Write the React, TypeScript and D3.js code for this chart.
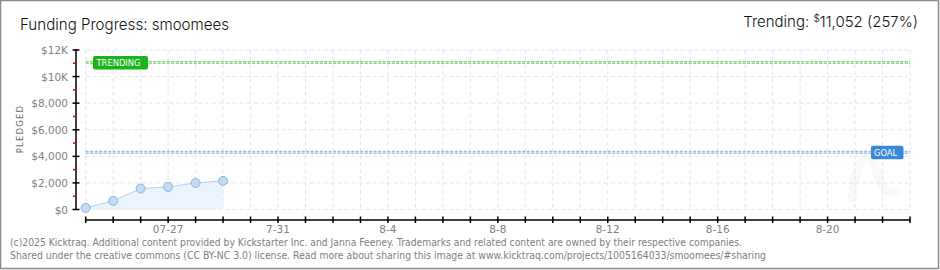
import React from "react";
import * as d3 from "d3";

const W = 940;
const H = 270;

const dates = ["2025-07-24", "2025-07-25", "2025-07-26", "2025-07-27", "2025-07-28", "2025-07-29"];
const pledged = [120, 650, 1575, 1700, 2000, 2150];
const goal = 4300;
const trending = 11052;
const domainStart = "2025-07-24";
const domainEnd = "2025-08-23";
const yTicks = [0, 2000, 4000, 6000, 8000, 10000, 12000];
const yTickLabels = ["$0", "$2,000", "$4,000", "$6,000", "$8,000", "$10K", "$12K"];
const yMinorTicks = [1000, 3000, 5000, 7000, 9000, 11000];
const xLabelDates = ["2025-07-27", "2025-07-31", "2025-08-04", "2025-08-08", "2025-08-12", "2025-08-16", "2025-08-20"];
const xLabels = ["07-27", "7-31", "8-4", "8-8", "8-12", "8-16", "8-20"];
const title = "Funding Progress: smoomees";
const footer1 = "(c)2025 Kicktraq. Additional content provided by Kickstarter Inc. and Janna Feeney. Trademarks and related content are owned by their respective companies.";
const footer2 = "Shared under the creative commons (CC BY-NC 3.0) license. Read more about sharing this image at www.kicktraq.com/projects/1005164033/smoomees/#sharing";

const parse = d3.utcParse("%Y-%m-%d");

export default function App() {
  const x = d3.scaleUtc().domain([parse(domainStart)!, parse(domainEnd)!]).range([85.7, 910]);
  const y = d3.scaleLinear().domain([0, 12000]).range([209.5, 50]);
  const days = d3.utcDay.range(parse(domainStart)!, d3.utcDay.offset(parse(domainEnd)!, 1));
  const pts = dates.map((d, i) => ({ d: parse(d)!, v: pledged[i] }));
  const area = d3.area<{ d: Date; v: number }>().x((p) => x(p.d)).y0(y(0)).y1((p) => y(p.v));
  const line = d3.line<{ d: Date; v: number }>().x((p) => x(p.d)).y((p) => y(p.v));
  const font = "'DejaVu Sans', Verdana, sans-serif";
  const yGoal = y(goal);
  const yTrend = y(trending);
  return (
    <div style={{ position: "absolute", left: 0, top: 0 }}>
      <svg width={W} height={H} style={{ display: "block", background: "#fff" }}>
        <rect x={0.5} y={0.5} width={W - 2} height={H - 2} fill="#fff" stroke="#8a8a8a" strokeWidth={1.5} />
        {/* watermark */}
        <path d="M852,198 C858,150 870,150 875,165 C880,185 885,195 898,192" fill="none" stroke="#f9f9f9" strokeWidth={9} strokeLinecap="round" />
        {/* grid */}
        {days.map((d, i) => (
          <line key={"vg" + i} x1={x(d)} x2={x(d)} y1={50} y2={209.5} stroke="#e6e6e6" strokeDasharray="4,3" />
        ))}
        {yTicks.map((t, i) => (
          <line key={"hg" + i} x1={85.7} x2={910} y1={y(t)} y2={y(t)} stroke="#e6e6e6" strokeDasharray="4,3" />
        ))}
        {/* area */}
        <path d={area(pts)!} fill="#ebf3fc" />
        <path d={line(pts)!} fill="none" stroke="#b5d1f1" strokeWidth={1} />
        {pts.map((p, i) => (
          <circle key={"c" + i} cx={x(p.d)} cy={y(p.v)} r={4.5} fill="#c4dbf6" stroke="#8eb0dc" strokeWidth={1} />
        ))}
        {/* trending line */}
        <line x1={85.7} x2={910} y1={yTrend} y2={yTrend} stroke="#7fd37f" strokeWidth={3} strokeDasharray="3,1.5" />
        <line x1={85.7} x2={910} y1={yTrend} y2={yTrend} stroke="#c8efc8" strokeWidth={1} strokeDasharray="3,1.5" />
        <rect x={93} y={yTrend - 6.5} width={55} height={13.5} rx={2} fill="#1cb41c" />
        <text x={96.5} y={yTrend + 3.5} fill="#fff" fontFamily={font} fontSize={9} textLength={44} lengthAdjust="spacingAndGlyphs">TRENDING</text>
        {/* goal line */}
        <line x1={85.7} x2={910} y1={yGoal} y2={yGoal} stroke="#8fb3df" strokeWidth={3} strokeDasharray="3,1.5" />
        <line x1={85.7} x2={910} y1={yGoal} y2={yGoal} stroke="#d3e2f5" strokeWidth={1} strokeDasharray="3,1.5" />
        <rect x={871} y={yGoal - 6.5} width={32.5} height={13.5} rx={2} fill="#3a88d8" />
        <text x={874} y={yGoal + 3.5} fill="#fff" fontFamily={font} fontSize={9} textLength={23} lengthAdjust="spacingAndGlyphs">GOAL</text>
        {/* y axis */}
        <line x1={76} x2={76} y1={49} y2={210} stroke="#000" strokeWidth={1.5} />
        {yTicks.map((t, i) => (
          <g key={"yt" + i}>
            <line x1={72.5} x2={79.5} y1={y(t)} y2={y(t)} stroke="#000" strokeWidth={1.5} />
            <text x={68} y={y(t) + 4} textAnchor="end" fill="#808080" fontFamily={font} fontSize={10.5}>{yTickLabels[i]}</text>
          </g>
        ))}
        {yMinorTicks.map((t, i) => (
          <line key={"ym" + i} x1={73} x2={76} y1={y(t)} y2={y(t)} stroke="#e00000" strokeWidth={1.5} />
        ))}
        <text transform="translate(23,129) rotate(-90)" textAnchor="middle" fill="#707070" fontFamily={font} fontSize={8.5} letterSpacing={1.2}>PLEDGED</text>
        {/* x axis */}
        <line x1={85} x2={910.7} y1={220} y2={220} stroke="#000" strokeWidth={1.5} />
        {days.map((d, i) => (
          <line key={"xt" + i} x1={x(d)} x2={x(d)} y1={216.5} y2={223} stroke="#000" strokeWidth={1.5} />
        ))}
        {xLabelDates.map((d, i) => (
          <text key={"xl" + i} x={x(parse(d)!)} y={232.5} textAnchor="middle" fill="#808080" fontFamily={font} fontSize={10.5}>{xLabels[i]}</text>
        ))}
        {/* titles */}
        <text x={20} y={30} fill="#111" fontFamily="Inter, 'DejaVu Sans', sans-serif" fontWeight={300} fontSize={16.5} textLength={209} lengthAdjust="spacingAndGlyphs">{title}</text>
        <text x={918} y={27} textAnchor="end" fill="#111" fontFamily="Inter, 'DejaVu Sans', sans-serif" fontWeight={300} fontSize={15}>
          Trending:{"  "}<tspan fontSize={10} dy={-5}>$</tspan><tspan dy={5}>11,052 (257%)</tspan>
        </text>
        <text x={10} y={246} fill="#808080" fontFamily={font} fontSize={10} textLength={732} lengthAdjust="spacingAndGlyphs">{footer1}</text>
        <text x={10} y={259} fill="#808080" fontFamily={font} fontSize={10} textLength={756} lengthAdjust="spacingAndGlyphs">{footer2}</text>
      </svg>
    </div>
  );
}
